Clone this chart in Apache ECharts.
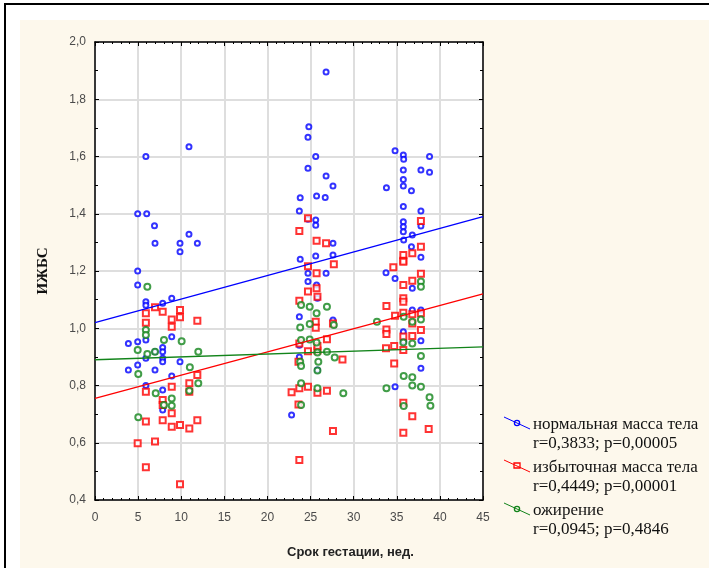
<!DOCTYPE html>
<html>
<head>
<meta charset="utf-8">
<script src="https://cdn.jsdelivr.net/npm/echarts@6/dist/echarts.min.js"></script>
<style>
  html, body { margin: 0; padding: 0; background: #fff; }
  #chart { width: 709px; height: 568px; }
</style>
</head>
<body>
<div id="chart"></div>
<script>
// points: [срок, ИЖБС]
const normalPoints = [
    [10.9, 1.634], [5.9, 1.60], [4.95, 1.40], [6.0, 1.40], [6.9, 1.358], [6.96, 1.297], [9.86, 1.297],
    [10.9, 1.328], [11.87, 1.297], [9.86, 1.267], [4.95, 1.20], [4.95, 1.151], [5.9, 1.093], [5.9, 1.08],
    [7.85, 1.087], [8.9, 1.105], [3.87, 0.947], [4.95, 0.953], [5.9, 0.959], [8.9, 0.97], [7.85, 0.933],
    [7.85, 0.918], [6.96, 0.918], [5.9, 0.895], [7.85, 0.895], [7.85, 0.883], [9.86, 0.883], [4.95, 0.872],
    [3.87, 0.854], [6.96, 0.854], [8.9, 0.833], [5.9, 0.80], [7.85, 0.784], [7.85, 0.714],
    [22.8, 0.697], [26.8, 1.895], [24.8, 1.704], [24.7, 1.667], [25.6, 1.60], [24.7, 1.559], [26.8, 1.532],
    [27.6, 1.497], [25.7, 1.462], [26.7, 1.457], [23.8, 1.456], [23.7, 1.41], [24.7, 1.381], [25.6, 1.378],
    [25.6, 1.36], [27.6, 1.297], [27.6, 1.256], [25.6, 1.252], [23.8, 1.241], [24.7, 1.163], [24.7, 1.192],
    [26.8, 1.192], [25.7, 1.151], [25.8, 1.105], [23.7, 1.04], [27.6, 1.029], [23.7, 0.941], [23.7, 0.90],
    [25.8, 0.854],
    [34.8, 1.62], [35.76, 1.605], [35.8, 1.59], [38.8, 1.60], [35.76, 1.553], [37.8, 1.553], [38.8, 1.545],
    [33.8, 1.491], [35.76, 1.52], [35.76, 1.497], [36.7, 1.48], [35.76, 1.425], [37.8, 1.41], [35.76, 1.372],
    [35.76, 1.355], [35.76, 1.337], [36.8, 1.326], [37.8, 1.357], [35.8, 1.308], [36.7, 1.285], [37.8, 1.248],
    [33.75, 1.194], [34.8, 1.174], [36.8, 1.14], [36.8, 1.064], [37.8, 1.064], [35.76, 0.988], [37.8, 0.956],
    [35.8, 0.955], [37.8, 0.86], [34.8, 0.796]
];
const overPoints = [
    [6.96, 1.073], [5.9, 1.052], [7.85, 1.058], [9.86, 1.064], [9.86, 1.038], [8.9, 1.031], [8.9, 1.005],
    [11.87, 1.026], [5.9, 1.019], [5.9, 0.778], [8.9, 0.796], [10.94, 0.808], [10.94, 0.778], [11.87, 0.837],
    [7.85, 0.749], [7.85, 0.732], [8.9, 0.703], [5.9, 0.674], [7.85, 0.679], [11.87, 0.679], [8.9, 0.656],
    [9.86, 0.662], [10.94, 0.65], [4.95, 0.598], [6.96, 0.604], [5.9, 0.514], [9.86, 0.455],
    [22.8, 0.776], [24.7, 1.384], [23.7, 1.34], [25.7, 1.306], [26.8, 1.297], [27.7, 1.224], [24.7, 1.217],
    [25.7, 1.192], [24.7, 1.128], [25.7, 1.14], [25.8, 1.11], [23.7, 1.096], [25.6, 1.023], [25.6, 1.002],
    [27.6, 1.017], [26.9, 0.962], [23.7, 0.947], [24.7, 0.92], [25.8, 0.922], [25.8, 0.938], [28.7, 0.891],
    [23.6, 0.883], [23.7, 0.79], [24.7, 0.796], [25.8, 0.775], [26.9, 0.782], [23.6, 0.734], [27.6, 0.641],
    [23.7, 0.54],
    [37.8, 1.375], [37.8, 1.285], [36.8, 1.262], [35.76, 1.256], [35.76, 1.236], [34.6, 1.213], [35.76, 1.232],
    [35.76, 1.151], [36.8, 1.166], [37.8, 1.19], [35.76, 1.105], [35.76, 1.093], [33.8, 1.078], [35.76, 1.054],
    [34.8, 1.044], [36.8, 1.049], [37.8, 1.052], [36.8, 1.017], [33.8, 0.996], [33.8, 0.98], [37.8, 0.994],
    [35.76, 0.971], [36.8, 0.973], [33.75, 0.93], [34.7, 0.938], [35.76, 0.924], [34.7, 0.877], [35.76, 0.74],
    [36.8, 0.693], [35.76, 0.635], [38.7, 0.648]
];
const obesePoints = [
    [6.07, 1.145], [5.9, 0.994], [5.9, 0.976], [8.0, 0.959], [10.05, 0.955], [4.95, 0.924], [6.07, 0.91],
    [6.96, 0.918], [11.98, 0.918], [11.0, 0.864], [5.02, 0.84], [11.98, 0.808], [10.94, 0.782], [7.04, 0.773],
    [8.9, 0.755], [8.9, 0.729], [8.0, 0.732], [5.02, 0.689],
    [23.9, 1.081], [24.9, 1.075], [26.9, 1.075], [25.7, 1.052], [23.8, 1.003], [24.9, 1.015], [27.7, 1.011],
    [23.9, 0.959], [24.9, 0.961], [25.7, 0.95], [25.8, 0.915], [26.9, 0.918], [23.8, 0.883], [23.9, 0.868],
    [25.9, 0.883], [25.8, 0.852], [27.8, 0.898], [23.9, 0.808], [25.8, 0.79], [28.8, 0.773], [23.9, 0.732],
    [32.7, 1.023], [35.8, 1.04], [36.8, 1.023], [37.8, 1.031], [35.76, 0.95], [36.8, 0.947], [37.8, 0.903],
    [35.8, 0.833], [36.8, 0.829], [36.8, 0.80], [37.8, 0.796], [33.8, 0.79], [38.8, 0.759], [38.9, 0.729],
    [35.8, 0.728], [37.8, 1.163], [37.8, 1.145]
];

// regression lines, ends at x = 0 and x = 45
const normalFit = [[0, 1.02], [45, 1.39]];
const overFit = [[0, 0.755], [45, 1.12]];
const obeseFit = [[0, 0.89], [45, 0.935]];

const groupNames = ['нормальная масса тела', 'избыточная масса тела', 'ожирение'];
const groupStats = ['r=0,3833; p=0,00005', 'r=0,4449; p=0,00001', 'r=0,0945; p=0,4846'];
const groupColors = ['#0000ff', '#ff0000', '#12841a'];

const xTicks = { min: 0, max: 45, step: 5 };
const yTicks = { min: 0.4, max: 2.0, step: 0.2 };

const serif = '"Liberation Serif", "DejaVu Serif", serif';
const sans = '"Liberation Sans", Arial, sans-serif';

function legendGraphic() {
    const items = [];
    const symbols = ['circle', 'rect', 'circle'];
    groupNames.forEach((name, i) => {
        const y0 = 426 + i * 43;
        items.push({
            type: 'line',
            shape: { x1: 504, y1: y0 - 9, x2: 530, y2: y0 + 3 },
            style: { stroke: groupColors[i], lineWidth: 1 }
        });
        if (symbols[i] === 'rect') {
            items.push({
                type: 'rect',
                shape: { x: 514, y: y0 - 6, width: 6, height: 5 },
                style: { fill: 'none', stroke: groupColors[i], lineWidth: 1.3 }
            });
        } else {
            items.push({
                type: 'circle',
                shape: { cx: 517, cy: y0 - 3, r: 2.6 },
                style: { fill: 'none', stroke: groupColors[i], lineWidth: 1.3 }
            });
        }
        items.push({
            type: 'text', x: 533, y: y0 - 1,
            style: { text: name, font: '17px ' + serif, fill: '#111', textVerticalAlign: 'middle' }
        });
        items.push({
            type: 'text', x: 533, y: y0 + 18,
            style: { text: groupStats[i], font: '17px ' + serif, fill: '#111', textVerticalAlign: 'middle' }
        });
    });
    return items;
}

const chart = echarts.init(document.getElementById('chart'));

function makeX(pos, labels) {
    return {
        type: 'value', position: pos,
        min: xTicks.min, max: xTicks.max, interval: xTicks.step,
        axisLine: { show: true, onZero: false, lineStyle: { color: '#000', width: 1.5 } },
        axisTick: { show: true, inside: true, length: 4, lineStyle: { color: '#000' } },
        minorTick: { show: true, splitNumber: 5, length: 2, lineStyle: { color: '#000' } },
        axisLabel: { show: labels, color: '#4a4a4a', fontFamily: sans, fontSize: 12, margin: 12 },
        splitLine: { show: labels, lineStyle: { color: '#dedede', width: 2 } }
    };
}

function makeY(pos, labels) {
    return {
        type: 'value', position: pos,
        min: yTicks.min, max: yTicks.max, interval: yTicks.step,
        axisLine: { show: true, onZero: false, lineStyle: { color: '#000', width: 1.5 } },
        axisTick: { show: true, inside: true, length: 4, lineStyle: { color: '#000' } },
        minorTick: { show: true, splitNumber: 2, length: 3, lineStyle: { color: '#000' } },
        axisLabel: {
            show: labels, color: '#4a4a4a', fontFamily: sans, fontSize: 12, margin: 9,
            formatter: v => v.toFixed(1).replace('.', ',')
        },
        splitLine: { show: labels, lineStyle: { color: '#dedede', width: 2 } }
    };
}

const yMain = makeY('left', true);
yMain.name = 'ИЖБС';
yMain.nameLocation = 'middle';
yMain.nameGap = 44;
yMain.nameTextStyle = { fontFamily: serif, fontWeight: 'bold', fontSize: 15, color: '#111' };

const pointSeries = [normalPoints, overPoints, obesePoints].map((pts, i) => ({
    name: groupNames[i],
    type: 'scatter',
    data: pts,
    symbol: ['emptyCircle', 'emptyRect', 'emptyCircle'][i],
    symbolSize: [5, 6, 6][i],
    itemStyle: { color: groupColors[i], borderColor: groupColors[i], borderWidth: 1.3 },
    silent: true
}));

const fitSeries = [normalFit, overFit, obeseFit].map((line, i) => ({
    type: 'line',
    data: line,
    symbol: 'none',
    lineStyle: { color: groupColors[i], width: 1.3 },
    silent: true
}));

const option = {
    backgroundColor: '#fdf8ec',
    animation: false,
    grid: {
        left: 95, right: 226, top: 42, bottom: 68,
        show: true, backgroundColor: '#fff', borderColor: '#000', borderWidth: 1
    },
    xAxis: [makeX('bottom', true), makeX('top', false)],
    yAxis: [yMain, makeY('right', false)],
    graphic: [
        { type: 'rect', shape: { x: 0, y: 0, width: 709, height: 20 }, style: { fill: '#fff' } },
        { type: 'rect', shape: { x: 0, y: 0, width: 20, height: 568 }, style: { fill: '#fff' } },
        { type: 'rect', shape: { x: 4, y: 3, width: 705, height: 2 }, style: { fill: '#000' } },
        { type: 'rect', shape: { x: 4, y: 3, width: 2, height: 565 }, style: { fill: '#000' } },
        {
            type: 'text', x: 287, y: 552,
            style: { text: 'Срок гестации, нед.', font: 'bold 13px ' + sans, fill: '#222', textVerticalAlign: 'middle' }
        }
    ].concat(legendGraphic()),
    series: pointSeries.concat(fitSeries)
};

chart.setOption(option);
</script>
</body>
</html>
